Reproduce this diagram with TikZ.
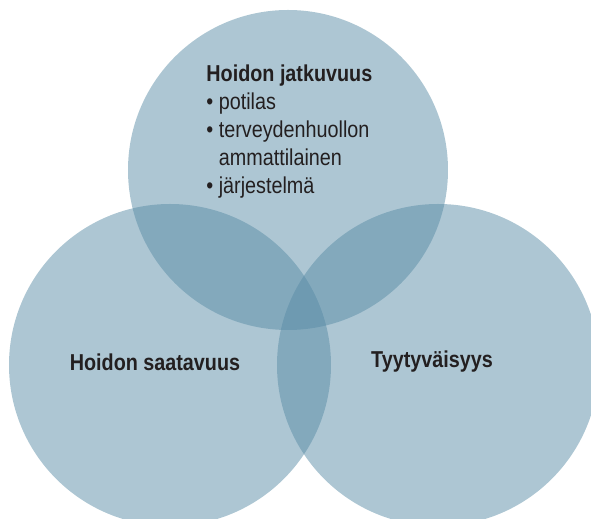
\documentclass[tikz,border=0pt]{standalone}
\usepackage{fontspec}
\setmainfont[FakeStretch=0.86]{Liberation Sans}
\usepackage{tikz}
\usetikzlibrary{positioning}
\definecolor{vennblue}{RGB}{88,139,165}
\definecolor{inkgrey}{RGB}{35,31,32}

\begin{document}
\begin{tikzpicture}[x=0.5pt,y=0.5pt,
    venn/.style={circle,fill=vennblue,fill opacity=0.49,inner sep=0pt,minimum size=161pt},
    lbl/.style={text=inkgrey,font=\fontsize{11.5pt}{14pt}\selectfont}]
    \useasboundingbox (0,0) rectangle (591,519);
    %circles
    \node[venn,minimum size=160pt] (top) at (288,349) {};
    \node[venn] (left) at (170,154) {};
    \node[venn] (right) at (438,154) {};
    %labels
    \node[lbl,align=left,anchor=north west,inner sep=0pt] (jatkuvuus) at (206,455)
      {\textbf{Hoidon jatkuvuus}\\
       \textbullet\ potilas\\
       \textbullet\ terveydenhuollon\\
       \phantom{\textbullet}\ ammattilainen\\
       \textbullet\ järjestelmä};
    \node[lbl,font=\bfseries\fontsize{11.5pt}{14pt}\selectfont] (saatavuus) at (155,157) {Hoidon saatavuus};
    \node[lbl,font=\bfseries\fontsize{11.5pt}{14pt}\selectfont] (tyytyvaisyys) at (432,157) {Tyytyväisyys};
\end{tikzpicture}
\end{document}
